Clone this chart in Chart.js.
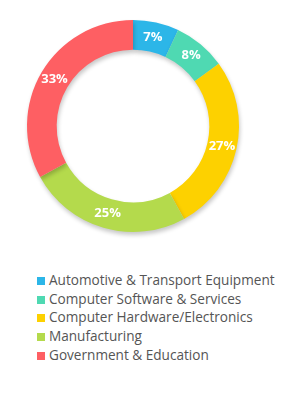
<!DOCTYPE html>
<html>
<head>
<meta charset="utf-8">
<script src="https://cdn.jsdelivr.net/npm/chart.js@4"></script>
<style>
	body { margin: 0; background: #fff; width: 295px; height: 401px; position: relative; overflow: hidden; }
	#wrap { position: absolute; left: 0; top: 0; width: 266px; height: 252px; }
	#legend { position: absolute; left: 37px; top: 271px; font-family: "Open Sans", sans-serif; font-size: 13.6px; color: #555; }
	#legend div { height: 18.7px; line-height: 18.7px; white-space: nowrap; }
	#legend span { display: inline-block; width: 8px; height: 8px; margin-right: 4px; vertical-align: 0px; }
</style>
</head>
<body>
<div id="wrap"><canvas id="chart"></canvas></div>
<div id="legend"></div>
<script>
const labels = ['Automotive & Transport Equipment', 'Computer Software & Services', 'Computer Hardware/Electronics', 'Manufacturing', 'Government & Education'];
const values = [7, 8, 27, 25, 33];
const colors = ['#2cb6e8', '#4fd9b2', '#fdd100', '#b4da4c', '#fe5f63'];

// soft shadow under the ring
const shadow = {
	id: 'shadow',
	beforeDatasetsDraw(chart) {
		const ctx = chart.ctx;
		ctx.save();
		ctx.shadowColor = 'rgba(0,0,0,0.22)';
		ctx.shadowBlur = 4;
		ctx.shadowOffsetX = 1;
		ctx.shadowOffsetY = 3;
	},
	afterDatasetsDraw(chart) {
		chart.ctx.restore();
	}
};

// percent labels on the ring
const pctLabels = {
	id: 'pctLabels',
	afterDatasetsDraw(chart) {
		const ctx = chart.ctx;
		const meta = chart.getDatasetMeta(0);
		ctx.save();
		ctx.fillStyle = '#fff';
		ctx.font = 'bold 13px "Open Sans", sans-serif';
		ctx.textAlign = 'center';
		ctx.textBaseline = 'middle';
		meta.data.forEach((arc, i) => {
			const p = arc.tooltipPosition();
			ctx.fillText(values[i] + '%', p.x, p.y);
		});
		ctx.restore();
	}
};

new Chart(document.getElementById('chart'), {
	type: 'doughnut',
	data: {
		labels: labels,
		datasets: [{
			data: values,
			backgroundColor: colors,
			borderWidth: 0,
		}]
	},
	options: {
		responsive: true,
		maintainAspectRatio: false,
		animation: false,
		cutout: '72%',
		layout: { padding: 20 },
		plugins: {
			legend: { display: false },
			tooltip: { enabled: false },
		}
	},
	plugins: [shadow, pctLabels]
});

let legend = document.getElementById('legend');
labels.forEach((l, i) => {
	let row = document.createElement('div');
	let box = document.createElement('span');
	box.style.background = colors[i];
	row.appendChild(box);
	row.appendChild(document.createTextNode(l));
	legend.appendChild(row);
});
</script>
</body>
</html>
